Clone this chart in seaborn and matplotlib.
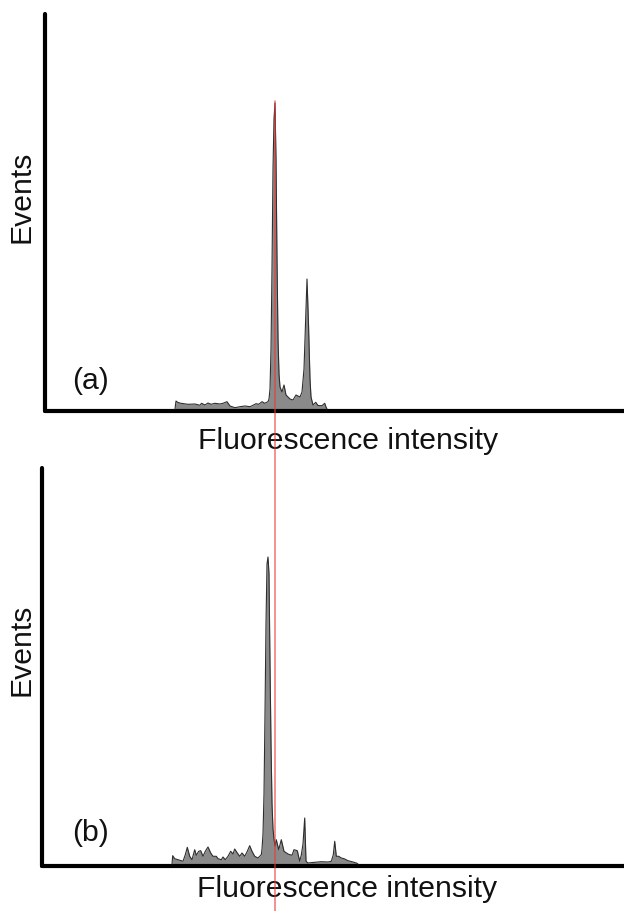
import numpy as np
import pandas as pd
import matplotlib
matplotlib.use("Agg")
import matplotlib.pyplot as plt
from matplotlib.lines import Line2D
import seaborn as sns

# ---- data (fluorescence channel vs events) ----
chan_a = [133, 134, 136, 139, 146, 153, 158, 159.5, 163, 166,
          169, 173, 178, 181, 185, 188, 193, 198, 203, 208,
          211, 214, 216.7, 220, 222.7, 226, 227, 228, 229, 230,
          231, 232, 233, 234, 235, 236, 237, 238, 240, 242,
          244, 248, 251, 254, 258, 260, 262, 263.5, 265, 266.5,
          268, 269, 271, 273.7, 276, 280, 282.7, 284, 285]
events_a = [0, 8, 6.5, 5.7, 4.7, 5, 3.7, 5.7, 4, 6,
            4.7, 5.7, 5, 5.7, 7.3, 3, 1.3, 2.3, 3, 2.3,
            3.7, 5.3, 4.7, 7.3, 5.7, 7.3, 10, 20, 60, 140,
            240, 290, 306, 250, 150, 70, 35, 22, 17, 24,
            14, 10, 9, 14, 12, 17, 40, 85, 130, 85,
            30, 12, 4, 6.7, 3.5, 3.3, 5.7, 2, 0]

chan_b = [130, 130.7, 132.7, 136, 141, 143.3, 145.3, 147.7, 150, 152.7,
          154.3, 156.7, 158.7, 161, 163.3, 166, 168.7, 171, 174.3, 176,
          179.3, 181, 183.3, 186, 188.7, 191, 192.7, 195.3, 197.7, 200,
          202.7, 205.3, 207.7, 210, 212.7, 216, 219.3, 220, 221, 222,
          223, 224, 225, 226, 227, 228, 229, 230, 231, 232,
          233, 234.3, 236.7, 239.3, 242, 246, 250, 252, 255.3, 257.7,
          259.3, 261, 262.7, 264, 266, 272.7, 279.3, 286, 289.3, 291.3,
          292.7, 294.3, 296.7, 299.3, 302, 306, 311, 314.3, 316]
events_b = [0, 8.3, 5.3, 4.3, 2.7, 9.3, 16.7, 7.7, 4.3, 14.3,
            8.7, 12.7, 13.3, 7.7, 12.7, 17, 11, 7.7, 7.7, 5.3,
            4.3, 7, 4.3, 7.7, 12.7, 10, 15, 11, 7.7, 11,
            7.7, 12.7, 18.3, 12.7, 7.7, 6, 9.3, 15, 30, 70,
            150, 240, 300, 307, 290, 200, 120, 60, 35, 25,
            18, 24.3, 14.3, 24.3, 12.7, 10, 8.7, 14.3, 13.3, 2.7,
            9, 20, 46, 2.7, 1, 1.7, 2.3, 2, 2.7, 9.3,
            22.7, 7.7, 7.7, 6, 5.3, 3.3, 2, 1, 0]

panel_labels = ["(a)", "(b)"]
xlabel = "Fluorescence intensity"
ylabel = "Events"

# ---- style ----
sns.set_theme(style="white")
plt.rcParams["font.family"] = ["Liberation Sans", "DejaVu Sans"]

W, H = 624, 911
fig = plt.figure(figsize=(W / 100, H / 100), dpi=100)

def frac_box(left, top, right, bottom):
    return [left / W, 1 - bottom / H, (right - left) / W, (bottom - top) / H]

ax1 = fig.add_axes(frac_box(45, 14, 626, 411))
ax2 = fig.add_axes(frac_box(42, 468, 626, 866))

fill_col = "#8a8a8a"
edge_col = "#2e2e2e"

for ax, ch, ev, xl, yl in [(ax1, chan_a, events_a, (3, 584), (-2, 395)),
                           (ax2, chan_b, events_b, (0, 584), (-2, 396))]:
    df = pd.DataFrame({"channel": ch, "events": ev})
    ax.fill_between(df["channel"], 0, df["events"], color=fill_col, lw=0, zorder=2)
    sns.lineplot(data=df, x="channel", y="events", ax=ax, color=edge_col,
                 lw=0.8, zorder=3, estimator=None, sort=False)
    ax.set_xlim(*xl)
    ax.set_ylim(*yl)
    ax.set_xticks([])
    ax.set_yticks([])
    ax.set_xlabel("")
    ax.set_ylabel("")
    for s in ["top", "right"]:
        ax.spines[s].set_visible(False)
    for s in ["left", "bottom"]:
        ax.spines[s].set_linewidth(3.0)
        ax.spines[s].set_color("black")
        ax.spines[s].set_capstyle("round")
    ax.set_facecolor("white")

fs = 21.7
def fig_text(px, py, s, **kw):
    fig.text(px / W, 1 - py / H, s, fontsize=fs, color="#111111",
             ha="center", va="center", **kw)

fig_text(348, 441, xlabel)
fig_text(347, 889, xlabel)
fig_text(22, 197, ylabel, rotation=90)
fig_text(22, 650, ylabel, rotation=90)
fig_text(91, 381, panel_labels[0])
fig_text(91, 833, panel_labels[1])

# red reference line at the (a) peak position, through both panels
fig.canvas.draw()
i_pk = int(np.argmax(events_a))
disp = ax1.transData.transform((chan_a[i_pk], events_a[i_pk]))
fx, fy = fig.transFigure.inverted().transform(disp)
fig.add_artist(Line2D([fx, fx], [0, fy + 2 / H], transform=fig.transFigure,
                      color="#e8383a", alpha=0.7, lw=1.1, zorder=10))

fig.savefig("out.png", dpi=100, facecolor="white")
